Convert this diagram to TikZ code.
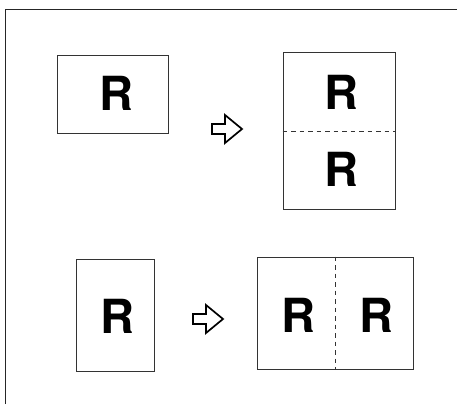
\documentclass[tikz,border=0pt]{standalone}
\usepackage{fontspec}
\setmainfont{TeX Gyre Heros}
\begin{document}
\begin{tikzpicture}[x = 1pt, y = -1pt,
	sheet/.style = {draw = black!80, line width = 1pt, inner sep = 0pt},
	fold/.style = {draw = black!80, line width = 1pt, dash pattern = on 4.5pt off 4pt},
	letter/.style = {font = \fontsize{47}{47}\selectfont\bfseries, inner sep = 0pt}]
	\useasboundingbox (0,0) rectangle (457,404);
	\draw [black!85, line width = 1pt] (5,404) -- (5,10) -- (457,10);
	% landscape original, split into two halves
	\node [sheet, minimum width = 111pt, minimum height = 78pt] (orig1) at (112.5,94) {};
	\node [letter] (r1) at (116.5,93.5) {R};
	\node [sheet, minimum width = 112pt, minimum height = 156pt] (copy1) at (339,131) {};
	\draw [fold] (copy1.west) -- (copy1.east);
	\node [letter] (r1a) at (341,92) {R};
	\node [letter] (r1b) at (341,169.5) {R};
	% portrait original, split into two halves
	\node [sheet, minimum width = 78pt, minimum height = 112pt] (orig2) at (115,315) {};
	\node [letter] (r2) at (117.5,316.5) {R};
	\node [sheet, minimum width = 156pt, minimum height = 112pt] (copy2) at (335,313) {};
	\draw [fold] (copy2.north) -- (copy2.south);
	\node [letter] (r2a) at (298,315) {R};
	\node [letter] (r2b) at (376.5,315) {R};
	% block arrows
	\foreach \ax/\ay in {212/129, 193/319}{
	\draw [line width = 1.7pt, line join = miter] (\ax,\ay-5) -- ++(13,0) -- ++(0,-9) -- ++(17,14) -- ++(-17,14) -- ++(0,-9) -- ++(-13,0) -- cycle;
	}
\end{tikzpicture}
\end{document}
